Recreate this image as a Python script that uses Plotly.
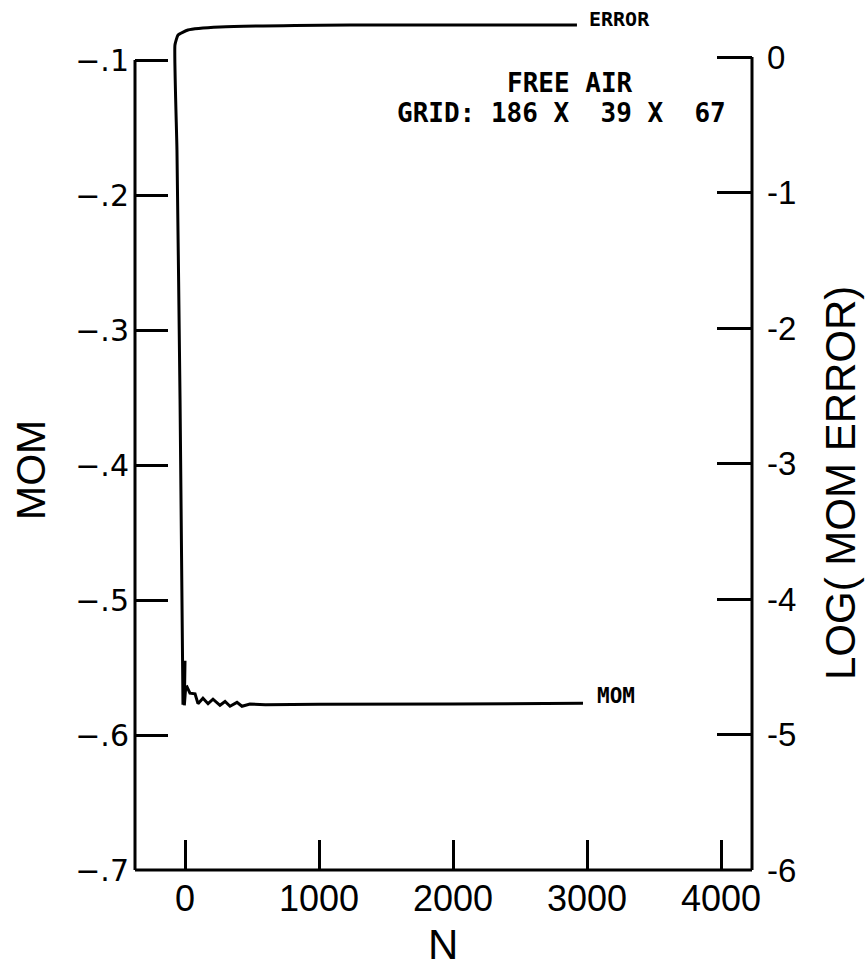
import plotly.graph_objects as go

# ---- data ----
mom_n = [0, -5, 5, 15, 37, 75, 97, 134, 172, 209, 261, 299, 336, 388, 425, 485, 600, 1000, 2000, 2970]
mom_v = [-0.545, -0.578, -0.565, -0.5644, -0.569, -0.5695, -0.5768, -0.5728, -0.5768, -0.5735,
         -0.578, -0.5752, -0.5787, -0.5758, -0.5787, -0.577, -0.5775, -0.5772, -0.577, -0.5765]

err_n = [-15, -37, -60, -75, -52, 22, 261, 1231, 2925]
err_log = [-4.78, -2.53, -0.686, 0.089, 0.162, 0.199, 0.221, 0.236, 0.236]

x_ticks = [0, 1000, 2000, 3000, 4000]
x_labels = ["0", "1000", "2000", "3000", "4000"]
left_ticks = [-0.7, -0.6, -0.5, -0.4, -0.3, -0.2, -0.1]
left_labels = ["\u2212.7", "\u2212.6", "\u2212.5", "\u2212.4", "\u2212.3", "\u2212.2", "\u2212.1"]
right_ticks = [-6, -5, -4, -3, -2, -1, 0]
right_labels = ["-6", "-5", "-4", "-3", "-2", "-1", "0"]

FONT = "Liberation Sans"
MONO = "DejaVu Sans Mono"

W, H = 867, 969
ML, MR, MT, MB = 135, 115, 10, 99
PW, PH = W - ML - MR, H - MT - MB


def px(xp):
    return (xp - ML) / PW


def py(yp):
    return (H - MB - yp) / PH


fig = go.Figure()
fig.add_trace(go.Scatter(x=mom_n, y=mom_v, mode="lines", yaxis="y",
                         line=dict(color="black", width=3), showlegend=False))
fig.add_trace(go.Scatter(x=err_n, y=err_log, mode="lines", yaxis="y2",
                         line=dict(color="black", width=3, shape="spline", smoothing=0.4),
                         showlegend=False))

fig.update_layout(
    width=W, height=H,
    margin=dict(l=ML, r=MR, t=MT, b=MB),
    plot_bgcolor="white", paper_bgcolor="white",
    xaxis=dict(range=[-373.1, 4231.3], tickvals=x_ticks, ticktext=x_labels,
               ticks="inside", ticklen=30, tickwidth=3, tickcolor="black",
               showgrid=False, zeroline=False, showline=False,
               tickfont=dict(family=FONT, size=36, color="black"),
               ticklabelstandoff=4),
    yaxis=dict(range=[-0.7, -0.06296], tickvals=left_ticks, ticktext=left_labels,
               ticks="inside", ticklen=33, tickwidth=3, tickcolor="black",
               showgrid=False, zeroline=False, showline=False,
               tickfont=dict(family="DejaVu Sans", size=30, color="black"),
               ticklabelstandoff=5),
    yaxis2=dict(range=[-6, 0.3469], tickvals=right_ticks, ticktext=right_labels,
                overlaying="y", side="right",
                ticks="inside", ticklen=35, tickwidth=3, tickcolor="black",
                showgrid=False, zeroline=False, showline=False,
                tickfont=dict(family=FONT, size=33, color="black"),
                ticklabelstandoff=14),
    shapes=[
        dict(type="line", xref="paper", yref="y", x0=0, x1=0, y0=-0.7, y1=-0.1,
             line=dict(color="black", width=3)),
        dict(type="line", xref="paper", yref="y2", x0=1, x1=1, y0=-6, y1=0,
             line=dict(color="black", width=3)),
        dict(type="line", xref="paper", yref="paper", x0=0, x1=1, y0=0, y1=0,
             line=dict(color="black", width=3)),
    ],
)

fig.add_annotation(text="<b>ERROR</b>", x=err_n[-1], y=err_log[-1], xref="x", yref="y2",
                   xanchor="left", yanchor="middle", xshift=10, yshift=6, showarrow=False,
                   font=dict(family=MONO, size=20, color="black"))
fig.add_annotation(text="<b>MOM</b>", x=mom_n[-1], y=mom_v[-1], xref="x", yref="y",
                   xanchor="left", yanchor="middle", xshift=12, yshift=7, showarrow=False,
                   font=dict(family=MONO, size=21, color="black"))
fig.add_annotation(text="<b>FREE AIR</b>", xref="paper", yref="paper",
                   x=px(570), y=py(83), xanchor="center", yanchor="middle",
                   showarrow=False, font=dict(family=MONO, size=26, color="black"))
fig.add_annotation(text="<b>GRID: 186 X  39 X  67</b>", xref="paper", yref="paper",
                   x=px(728), y=py(113), xanchor="right", yanchor="middle",
                   showarrow=False, font=dict(family=MONO, size=26, color="black"))
# axis titles
fig.add_annotation(text="MOM", xref="paper", yref="paper", x=px(31), y=py(470),
                   xanchor="center", yanchor="middle", textangle=-90, showarrow=False,
                   font=dict(family=FONT, size=41, color="black"))
fig.add_annotation(text="LOG( MOM ERROR)", xref="paper", yref="paper", x=px(840), y=py(483),
                   xanchor="center", yanchor="middle", textangle=-90, showarrow=False,
                   font=dict(family=FONT, size=42, color="black"))
fig.add_annotation(text="N", xref="paper", yref="paper", x=px(443), y=py(945),
                   xanchor="center", yanchor="middle", showarrow=False,
                   font=dict(family=FONT, size=42, color="black"))

fig.write_html("out.html")
